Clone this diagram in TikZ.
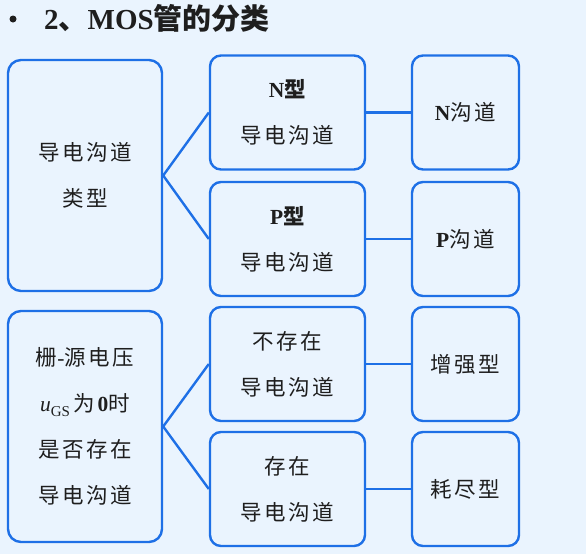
\documentclass[tikz,border=0pt]{standalone}
\usepackage{fontspec}
\setmainfont{Liberation Serif}
\newfontfamily\cjk[LetterSpace=12]{Noto Sans CJK SC}
\newfontfamily\cjktitle{Noto Sans CJK SC}
\definecolor{bgc}{RGB}{234,244,254}
\definecolor{edge}{RGB}{30,112,230}
\definecolor{ink}{RGB}{30,30,30}
\tikzset{
  x=1pt,y=-1pt,
  boxbig/.style={draw=edge,line width=2.4pt,rounded corners=13pt,fill=bgc,
    minimum width=154pt,minimum height=231pt,inner sep=0pt,align=center,
    text=ink,font=\fontsize{21.5pt}{46pt}\selectfont},
  boxmid/.style={draw=edge,line width=2.4pt,rounded corners=11pt,fill=bgc,
    minimum width=155pt,minimum height=114pt,inner sep=0pt,align=center,
    text=ink,font=\fontsize{21.5pt}{46pt}\selectfont},
  boxend/.style={draw=edge,line width=2.4pt,rounded corners=11pt,fill=bgc,
    minimum width=107pt,minimum height=114pt,inner sep=0pt,align=center,
    text=ink,font=\fontsize{21.5pt}{46pt}\selectfont},
  link/.style={draw=edge,line width=2.4pt}
}
\begin{document}
\begin{tikzpicture}
\fill[bgc] (0,0) rectangle (586,554);
\useasboundingbox (0,0) rectangle (586,554);
% title
\node[circle,fill=ink,inner sep=0pt,minimum size=7pt] (bullet) at (13,19) {};
\node[anchor=west,text=ink,inner sep=0pt,font=\fontsize{29pt}{32pt}\selectfont\bfseries] (title) at (44,18)
  {2{\cjktitle\bfseries 、}MOS{\cjktitle\bfseries 管的分类}};
% left boxes
\node[boxbig] (A) at (85,175.5) {{\cjk 导电沟道}\\{\cjk 类型}};
\node[boxbig] (B) at (85,426.5) {{\cjk 栅}-{\cjk 源电压}\\\textit{u}\raisebox{-5pt}{\fontsize{15pt}{16pt}\selectfont GS}\,{\cjk 为}\textbf{0}{\cjk 时}\\{\cjk 是否存在}\\{\cjk 导电沟道}};
% middle boxes
\node[boxmid] (N) at (287.5,112.5) {\textbf{N}{\cjk\bfseries 型}\\{\cjk 导电沟道}};
\node[boxmid] (P) at (287.5,239) {\textbf{P}{\cjk\bfseries 型}\\{\cjk 导电沟道}};
\node[boxmid] (E) at (287.5,364) {{\cjk 不存在}\\{\cjk 导电沟道}};
\node[boxmid] (D) at (287.5,489) {{\cjk 存在}\\{\cjk 导电沟道}};
% right boxes
\node[boxend] (Nc) at (465.5,112.5) {\textbf{N}{\cjk 沟道}};
\node[boxend] (Pc) at (465.5,239) {\textbf{P}{\cjk 沟道}};
\node[boxend] (Ec) at (465.5,364) {{\cjk 增强型}};
\node[boxend] (Dc) at (465.5,489) {{\cjk 耗尽型}};
% connectors
\draw[link] (N.west) -- (A.east) -- (P.west);
\draw[link] (E.west) -- (B.east) -- (D.west);
\draw[link] (N.east) -- (Nc.west);
\draw[link] (P.east) -- (Pc.west);
\draw[link] (E.east) -- (Ec.west);
\draw[link] (D.east) -- (Dc.west);
\end{tikzpicture}
\end{document}
